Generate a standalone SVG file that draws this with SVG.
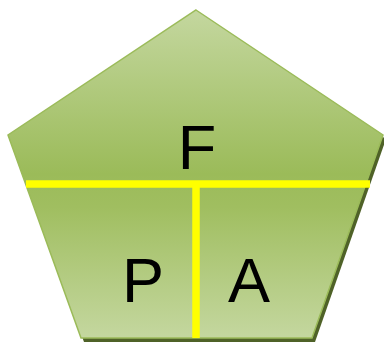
<svg xmlns="http://www.w3.org/2000/svg" width="384" height="344" viewBox="0 0 384 344">
<defs>
<linearGradient id="g" gradientUnits="userSpaceOnUse" x1="0" y1="10" x2="0" y2="338">
<stop offset="0" stop-color="#c4d79f"/>
<stop offset="0.5" stop-color="#9bbb59"/>
<stop offset="0.6" stop-color="#a0be60"/>
<stop offset="1" stop-color="#c4d79f"/>
</linearGradient>
<style>
.lbl{font-family:"Liberation Sans",Arial,sans-serif;font-size:63px;fill:#000;text-anchor:middle}
.yl{stroke:#ffff00;stroke-width:7.5;fill:none}
</style>
</defs>
<g id="pentagon">
<polygon points="199,14 386,139 315,342 84,342 11,139" fill="#4f6228"/>
<polygon points="196,10 383,135 312,338 81,338 8,135" fill="url(#g)" stroke="#9bbb59" stroke-width="1.5" stroke-linejoin="miter"/>
</g>
<g id="connectors">
<line class="yl" x1="26" y1="184" x2="370" y2="184"/>
<line class="yl" x1="196" y1="184" x2="196" y2="338"/>
</g>
<g id="F"><text class="lbl" x="197" y="169">F</text></g>
<g id="P"><text class="lbl" x="143" y="302">P</text></g>
<g id="A"><text class="lbl" x="249" y="302">A</text></g>
</svg>
